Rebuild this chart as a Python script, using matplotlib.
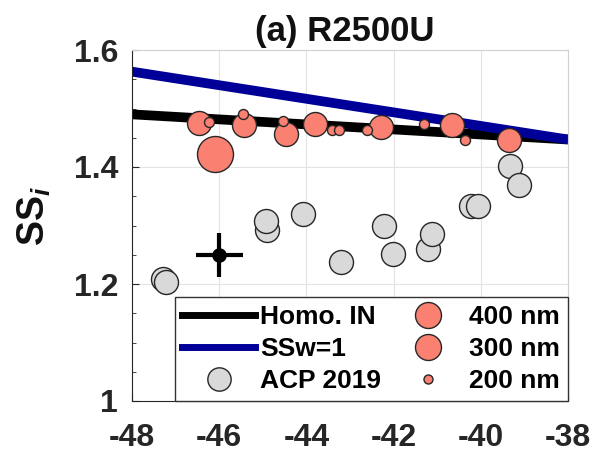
import matplotlib.pyplot as plt
from matplotlib.lines import Line2D
from matplotlib.ticker import MultipleLocator

plt.rcParams['font.family'] = 'Liberation Sans'
plt.rcParams['font.weight'] = 'bold'
plt.rcParams['axes.unicode_minus'] = False
plt.rcParams['mathtext.fontset'] = 'custom'
plt.rcParams['mathtext.rm'] = 'Liberation Sans:bold'
plt.rcParams['mathtext.bf'] = 'Liberation Sans:bold'
plt.rcParams['mathtext.it'] = 'Liberation Sans:italic:bold'

# reference lines
line_temp = [-48, -38]
ss_homo = [1.490, 1.447]
ss_w1 = [1.563, 1.447]

# this study, size class in nm
in_temp = [-46.46, -46.24, -46.10, -45.45, -45.43, -44.54, -44.47, -43.80,
           -43.41, -43.26, -42.62, -42.29, -41.30, -40.66, -40.36, -39.35]
in_ss = [1.475, 1.477, 1.422, 1.491, 1.472, 1.479, 1.456, 1.473,
         1.463, 1.463, 1.464, 1.469, 1.474, 1.471, 1.447, 1.446]
in_dp = [300, 200, 400, 200, 300, 200, 300, 300,
         200, 200, 200, 300, 200, 300, 200, 300]

# ACP 2019
acp_temp = [-47.28, -47.22, -44.90, -44.93, -44.07, -43.20, -42.22,
            -42.01, -41.20, -41.11, -40.23, -40.06, -39.33, -39.12]
acp_ss = [1.208, 1.204, 1.293, 1.308, 1.319, 1.238, 1.300,
          1.251, 1.260, 1.285, 1.333, 1.333, 1.401, 1.370]

# typical uncertainty
err_temp, err_ss = -46.0, 1.25
err_dt, err_dss = 0.54, 0.038

RED = '#fa8072'
GRAY = '#d9d9d9'
BLUE = '#000099'
EDGE = '#262626'
size_px = {400: 36, 300: 24, 200: 10}

fig = plt.figure(figsize=(5.95, 4.55), dpi=100)
ax = fig.add_axes([132 / 595, 1 - 401 / 455, 436 / 595, 351 / 455])

ax.plot(line_temp, ss_homo, color='k', lw=7, solid_capstyle='butt', zorder=2)
ax.plot(line_temp, ss_w1, color=BLUE, lw=7, solid_capstyle='butt', zorder=2)

# big ones first so small markers land on top
order = sorted(range(len(in_dp)), key=lambda i: -in_dp[i])
for i in order:
    s = (size_px[in_dp[i]] * 0.72) ** 2
    ax.scatter(in_temp[i], in_ss[i], s=s, c=RED, edgecolors=EDGE,
               linewidths=1, zorder=3)

ax.scatter(acp_temp, acp_ss, s=(24 * 0.72) ** 2, c=GRAY, edgecolors=EDGE,
           linewidths=1, zorder=3)

ax.errorbar(err_temp, err_ss, xerr=err_dt, yerr=err_dss, fmt='o', color='k',
            ms=9.5, elinewidth=3, capsize=0, zorder=4)

ax.set_xlim(-48, -38)
ax.set_ylim(1.0, 1.6)
ax.set_xticks([-48, -46, -44, -42, -40, -38])
ax.set_yticks([1.0, 1.2, 1.4, 1.6])
ax.set_yticklabels(['1', '1.2', '1.4', '1.6'])
ax.yaxis.set_minor_locator(MultipleLocator(0.05))
ax.grid(True, color='#e3e3e3', linewidth=0.8, zorder=0)
ax.set_axisbelow(True)

for side in ['top', 'right']:
    ax.spines[side].set_color('#d0d0d0')
for side in ['left', 'bottom']:
    ax.spines[side].set_color(EDGE)
ax.tick_params(axis='both', which='both', direction='in', colors=EDGE,
               labelsize=23)
ax.tick_params(axis='y', which='major', length=5, pad=10)
ax.tick_params(axis='y', which='minor', length=3)
ax.tick_params(axis='x', which='major', length=5, pad=16)

fig.text(345 / 595, 1 - 31 / 455, '(a) R2500U', fontsize=25,
         fontweight='bold', ha='center', va='center', color='#111111')
fig.text(34 / 595, 1 - 216 / 455, r'$\mathbf{SS}_{\mathit{i}}$', fontsize=27,
         rotation=90, ha='center', va='center', color='#111111')

handles = [
    Line2D([], [], color='k', lw=5),
    Line2D([], [], color=BLUE, lw=5),
    Line2D([], [], ls='', marker='o', ms=16.8, mfc=GRAY, mec=EDGE),
    Line2D([], [], ls='', marker='o', ms=18.7, mfc=RED, mec=EDGE),
    Line2D([], [], ls='', marker='o', ms=18.7, mfc=RED, mec=EDGE),
    Line2D([], [], ls='', marker='o', ms=6.5, mfc=RED, mec=EDGE),
]
labels = ['Homo. IN', 'SSw=1', 'ACP 2019', '400 nm', '300 nm', '200 nm']
leg = ax.legend(handles, labels, ncol=2, loc='lower right', borderaxespad=0,
                fontsize=19, handlelength=2.73, handletextpad=0.21,
                columnspacing=0.4, labelspacing=0.3, borderpad=0.3,
                fancybox=False, framealpha=1, edgecolor='#333333')
leg.get_frame().set_linewidth(1.0)

fig.savefig('out.png', dpi=100)
